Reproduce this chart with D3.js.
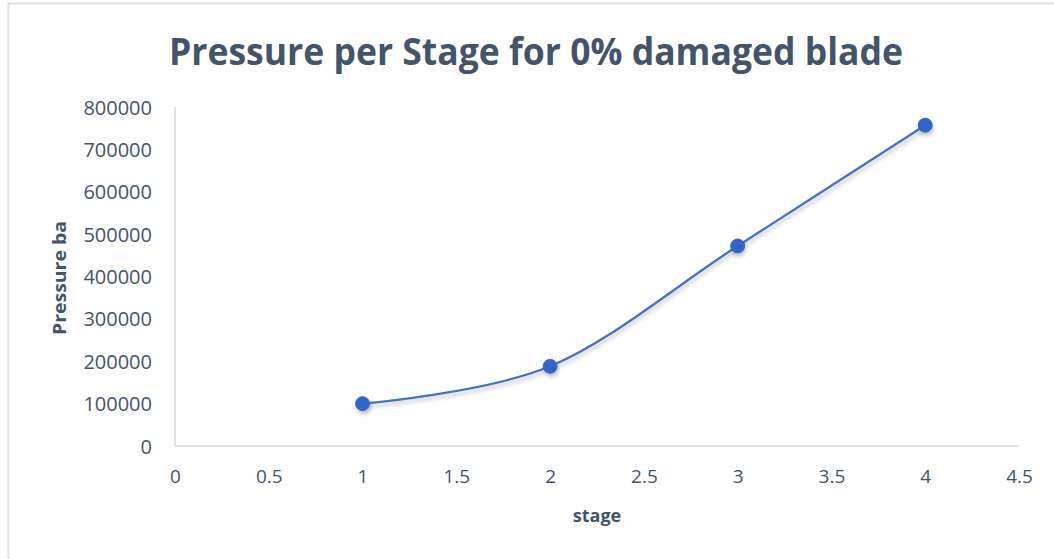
<!DOCTYPE html>
<html>
<head>
<meta charset="utf-8">
<script src="https://cdn.jsdelivr.net/npm/d3@7"></script>
<style>
  html, body { margin: 0; padding: 0; background: #fff; }
  svg { display: block; }
</style>
</head>
<body>
<svg id="chart" width="1054" height="559"></svg>
<script>
// Pressure readings per stage
const stages = [1, 2, 3, 4];
const pressure = [100000, 188000, 472000, 757000];
const xTicks = [0, 0.5, 1, 1.5, 2, 2.5, 3, 3.5, 4, 4.5];
const yTicks = [0, 100000, 200000, 300000, 400000, 500000, 600000, 700000, 800000];

const W = 1054, H = 559;
const plot = { left: 175, right: 1019, top: 107, bottom: 446 };
const textColor = "#44546A";
const font = "'Open Sans', 'Noto Sans', sans-serif";

const svg = d3.select("#chart");

// drop shadow for line and markers
const defs = svg.append("defs");
const f = defs.append("filter").attr("id", "shadow")
  .attr("x", "-20%").attr("y", "-20%").attr("width", "140%").attr("height", "160%");
f.append("feDropShadow").attr("dx", 1).attr("dy", 3).attr("stdDeviation", 2)
  .attr("flood-color", "#000").attr("flood-opacity", 0.25);

// chart frame (top and left edges)
svg.append("line").attr("x1", 8).attr("x2", W).attr("y1", 3.5).attr("y2", 3.5)
  .attr("stroke", "#DEE3EA").attr("stroke-width", 2);
svg.append("line").attr("x1", 8.5).attr("x2", 8.5).attr("y1", 3).attr("y2", H)
  .attr("stroke", "#DEE3EA").attr("stroke-width", 2);

const x = d3.scaleLinear().domain([0, 4.5]).range([plot.left, plot.right]);
const y = d3.scaleLinear().domain([0, 800000]).range([plot.bottom, plot.top]);

// axis lines
svg.append("line").attr("x1", plot.left).attr("x2", plot.left)
  .attr("y1", plot.top).attr("y2", plot.bottom)
  .attr("stroke", "#D9D9D9").attr("stroke-width", 1.5);
svg.append("line").attr("x1", plot.left).attr("x2", plot.right)
  .attr("y1", plot.bottom).attr("y2", plot.bottom)
  .attr("stroke", "#D9D9D9").attr("stroke-width", 1.5);

// y tick labels
const yAxis = d3.axisLeft(y).tickValues(yTicks).tickSize(0).tickPadding(23)
  .tickFormat(d3.format("d"));
const gy = svg.append("g").attr("transform", `translate(${plot.left},0)`).call(yAxis);
gy.select(".domain").remove();
gy.selectAll("text").attr("fill", textColor).attr("font-size", 20)
  .attr("font-family", font).attr("dy", "0.35em");

// x tick labels
const xAxis = d3.axisBottom(x).tickValues(xTicks).tickSize(0).tickPadding(24)
  .tickFormat(d => String(d));
const gx = svg.append("g").attr("transform", `translate(0,${plot.bottom})`).call(xAxis);
gx.select(".domain").remove();
gx.selectAll("text").attr("fill", textColor).attr("font-size", 19)
  .attr("font-family", font);

// title
svg.append("text").attr("x", 536).attr("y", 65).attr("text-anchor", "middle")
  .attr("fill", textColor).attr("font-family", font).attr("font-weight", 700)
  .attr("font-size", 37).attr("textLength", 734).attr("lengthAdjust", "spacingAndGlyphs")
  .text("Pressure per Stage for 0% damaged blade");

// axis titles
svg.append("text").attr("transform", "translate(66,278) rotate(-90)")
  .attr("text-anchor", "middle").attr("fill", textColor).attr("font-family", font)
  .attr("font-weight", 700).attr("font-size", 18).attr("textLength", 114)
  .attr("lengthAdjust", "spacingAndGlyphs").text("Pressure ba");
svg.append("text").attr("x", 597).attr("y", 522).attr("text-anchor", "middle")
  .attr("fill", textColor).attr("font-family", font)
  .attr("font-weight", 700).attr("font-size", 18).text("stage");

// smoothed series line
const pts = stages.map((s, i) => [s, pressure[i]]);
const line = d3.line().x(d => x(d[0])).y(d => y(d[1])).curve(d3.curveCatmullRom.alpha(0));
svg.append("path").datum(pts).attr("d", line)
  .attr("fill", "none").attr("stroke", "#4472C4").attr("stroke-width", 2.25)
  .attr("filter", "url(#shadow)");

// markers
svg.append("g").selectAll("circle").data(pts).join("circle")
  .attr("cx", d => x(d[0])).attr("cy", d => y(d[1])).attr("r", 7)
  .attr("fill", "#3165C6").attr("stroke", "#3A6BC8").attr("stroke-width", 1)
  .attr("filter", "url(#shadow)");
</script>
</body>
</html>
